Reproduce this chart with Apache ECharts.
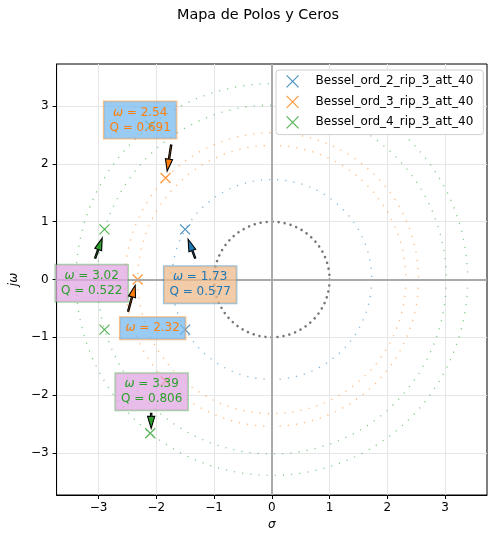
<!DOCTYPE html>
<html>
<head>
<meta charset="utf-8">
<script src="https://cdn.jsdelivr.net/npm/echarts@6/dist/echarts.min.js"></script>
<style>
html, body { margin: 0; padding: 0; background: #fff; }
#chart { width: 494px; height: 541px; }
</style>
</head>
<body>
<div id="chart"></div>
<script>
// nombres de las series
const seriesNames = ['Bessel_ord_2_rip_3_att_40', 'Bessel_ord_3_rip_3_att_40', 'Bessel_ord_4_rip_3_att_40'];

// polos (parte real / imaginaria)
const polesRe2 = [-1.500, -1.500];
const polesIm2 = [0.866, -0.866];
const polesRe3 = [-1.839, -1.839, -2.322];
const polesIm3 = [1.754, -1.754, 0];
const polesRe4 = [-2.896, -2.896, -2.104, -2.104];
const polesIm4 = [0.867, -0.867, 2.657, -2.657];

// radios de los circulos (omega)
const radii2 = [1.73];
const radii3 = [2.32, 2.54];
const radii4 = [3.02, 3.39];
const unitRadius = [1];

// anotaciones
const annOmega = [2.54, 3.02, 1.73, 2.32, 3.39];
const annQ = [0.691, 0.522, 0.577, null, 0.806];
const annSeries = [1, 2, 0, 1, 2];

// ticks
const tickValues = [-3, -2, -1, 0, 1, 2, 3];

// posicion de las cajas y flechas (unidades de datos)
const annBoxX = [-2.279, -3.118, -1.240, -2.062, -2.080];
const annBoxY = [2.756, -0.064, -0.090, -0.843, -1.941];
const annTailX = [-1.742, -3.057, -1.327, -2.486, -2.088];
const annTailY = [2.324, 0.369, 0.369, -0.548, -2.313];
const annTipX = [-1.811, -2.936, -1.448, -2.365, -2.088];
const annTipY = [1.874, 0.715, 0.697, -0.099, -2.573];

const colors = ['#1f77b4', '#ff7f0e', '#2ca02c'];
const boxFill = ['rgba(238,186,140,0.75)', 'rgba(120,186,239,0.75)', 'rgba(226,167,226,0.75)'];
const boxEdge = ['rgba(31,119,180,0.45)', 'rgba(255,127,14,0.5)', 'rgba(44,160,44,0.45)'];
const xPath = 'path://M0,0L10,10M10,0L0,10';
const FONT = 'DejaVu Sans';

function fmt(v) {
  return v < 0 ? '\u2212' + Math.abs(v) : String(v);
}

// circulo punteado centrado en el origen
function circleSeries(radii, color, style) {
  return {
    type: 'custom',
    coordinateSystem: 'cartesian2d',
    silent: true,
    clip: false,
    z: 2,
    data: radii.map(r => [0, 0, r]),
    encode: { x: 0, y: 1 },
    renderItem: function (params, api) {
      const c = api.coord([0, 0]);
      const r = api.size([api.value(2), 0])[0];
      return {
        type: 'circle',
        shape: { cx: c[0], cy: c[1], r: r },
        style: Object.assign({ fill: 'none', stroke: color }, style),
      };
    },
  };
}

function poleSeries(i, re, im) {
  return {
    name: seriesNames[i],
    type: 'scatter',
    symbol: xPath,
    symbolSize: 10,
    z: 4,
    emphasis: { disabled: true },
    data: re.map((x, k) => [x, im[k]]),
    itemStyle: { color: 'rgba(0,0,0,0)', borderColor: colors[i], borderWidth: 1.2 },
  };
}

const annSeriesObj = {
  type: 'custom',
  coordinateSystem: 'cartesian2d',
  clip: false,
  silent: true,
  z: 6,
  data: annBoxX.map((x, i) => [x, annBoxY[i]]),
  encode: { x: 0, y: 1 },
  renderItem: function (params, api) {
    const i = params.dataIndex;
    const s = annSeries[i];
    const box = api.coord([annBoxX[i], annBoxY[i]]);
    const tail = api.coord([annTailX[i], annTailY[i]]);
    const tip = api.coord([annTipX[i], annTipY[i]]);
    const dx = tip[0] - tail[0], dy = tip[1] - tail[1];
    const len = Math.sqrt(dx * dx + dy * dy);
    const ux = dx / len, uy = dy / len, nx = -uy, ny = ux;
    const headLen = Math.min(12, len * 0.9), headW = 3.6, bodyW = 0.7;
    const bx = tip[0] - ux * headLen, by = tip[1] - uy * headLen;
    const pts = [
      [tail[0] + nx * bodyW, tail[1] + ny * bodyW],
      [bx + nx * bodyW, by + ny * bodyW],
      [bx + nx * headW, by + ny * headW],
      [tip[0], tip[1]],
      [bx - nx * headW, by - ny * headW],
      [bx - nx * bodyW, by - ny * bodyW],
      [tail[0] - nx * bodyW, tail[1] - ny * bodyW],
    ];
    let txt = '{w|\u03c9} = ' + annOmega[i].toFixed(2);
    if (annQ[i] !== null) txt += '\nQ = ' + annQ[i].toFixed(3);
    return {
      type: 'group',
      children: [
        {
          type: 'polygon',
          shape: { points: pts },
          style: { fill: colors[s], stroke: '#000', lineWidth: 1.1 },
        },
        {
          type: 'text',
          x: box[0],
          y: box[1],
          style: {
            text: txt,
            fill: colors[s],
            fontFamily: FONT,
            fontSize: 12,
            lineHeight: 15,
            align: 'center',
            verticalAlign: 'middle',
            backgroundColor: boxFill[s],
            borderColor: boxEdge[s],
            borderWidth: 1,
            padding: [3.5, 5.5],
            rich: { w: { fontStyle: 'italic', fontFamily: FONT, fontSize: 12, fill: colors[s], lineHeight: 15 } },
          },
        },
      ],
    };
  },
};

const chart = echarts.init(document.getElementById('chart'), null, { renderer: 'canvas' });

const axisCommon = {
  type: 'value',
  min: -3.725,
  max: 3.725,
  nameLocation: 'middle',
  axisLine: { show: true, onZero: false, lineStyle: { color: '#000', width: 1 } },
  axisTick: { show: true, inside: false, length: 4, customValues: tickValues, lineStyle: { color: '#000', width: 1 } },
  axisLabel: { customValues: tickValues, formatter: fmt, fontSize: 12, fontFamily: FONT, color: '#000' },
  splitLine: { show: true, lineStyle: { color: '#e6e6e6', width: 1 } },
};

chart.setOption({
  animation: false,
  backgroundColor: '#fff',
  grid: { left: 55, right: 7, top: 64, bottom: 46, show: true, borderColor: '#000', borderWidth: 1, backgroundColor: 'transparent' },
  graphic: [
    {
      type: 'text',
      x: 258,
      y: 15,
      style: { text: 'Mapa de Polos y Ceros', fontFamily: FONT, fontSize: 14.4, fill: '#000', align: 'center', verticalAlign: 'middle' },
    },
  ],
  legend: {
    orient: 'vertical',
    left: 276,
    top: 70,
    padding: [4.7, 10, 5.7, 10],
    itemWidth: 12,
    itemHeight: 12,
    itemGap: 7.3,
    backgroundColor: '#fff',
    borderColor: '#d0d0d0',
    borderWidth: 1,
    borderRadius: 3,
    textStyle: { fontFamily: FONT, fontSize: 12, color: '#000', lineHeight: 12, padding: [0, 0, 0, 12] },
    data: seriesNames.map((n, i) => ({
      name: n,
      icon: xPath,
      itemStyle: { color: 'rgba(0,0,0,0)', borderColor: colors[i], borderWidth: 1.2 },
    })),
  },
  xAxis: Object.assign({}, axisCommon, {
    name: '\u03c3',
    nameGap: 23,
    nameTextStyle: { fontStyle: 'italic', fontSize: 12, fontFamily: FONT, color: '#000' },
    axisLabel: Object.assign({}, axisCommon.axisLabel, { margin: 7 }),
  }),
  yAxis: Object.assign({}, axisCommon, {
    name: 'j\u03c9',
    nameGap: 34,
    nameRotate: 90,
    nameTextStyle: { fontStyle: 'italic', fontSize: 12, fontFamily: FONT, color: '#000' },
    axisLabel: Object.assign({}, axisCommon.axisLabel, { margin: 8 }),
  }),
  series: [
    circleSeries(radii2, colors[0], { lineWidth: 1.3, lineDash: [1.2, 7], opacity: 0.55 }),
    circleSeries(radii3, colors[1], { lineWidth: 1.3, lineDash: [1.2, 7], opacity: 0.55 }),
    circleSeries(radii4, colors[2], { lineWidth: 1.3, lineDash: [1.2, 7], opacity: 0.55 }),
    Object.assign(circleSeries(unitRadius, '#777', { lineWidth: 2.6, lineDash: [0.01, 6.05], lineCap: 'round' }), {
      markLine: {
        silent: true,
        symbol: 'none',
        label: { show: false },
        lineStyle: { color: '#aaaaaa', width: 2, type: 'solid' },
        data: [{ xAxis: 0 }, { yAxis: 0 }],
      },
    }),
    poleSeries(0, polesRe2, polesIm2),
    poleSeries(1, polesRe3, polesIm3),
    poleSeries(2, polesRe4, polesIm4),
    annSeriesObj,
  ],
});
</script>
</body>
</html>
